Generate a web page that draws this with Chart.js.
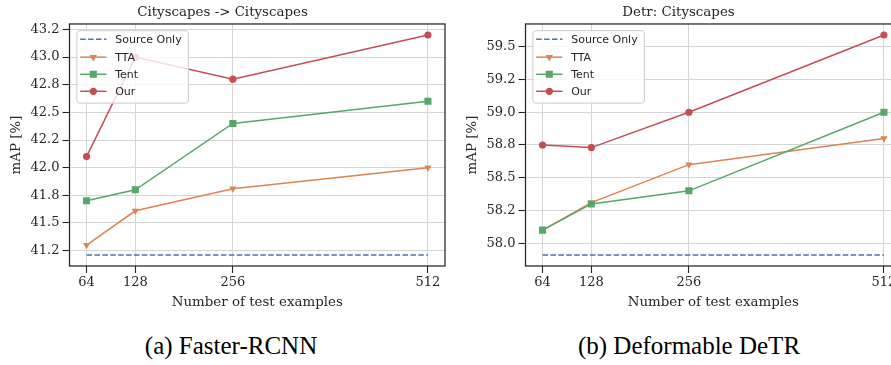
<!DOCTYPE html>
<html>
<head>
<meta charset="utf-8">
<script src="https://cdn.jsdelivr.net/npm/chart.js@4/dist/chart.umd.min.js"></script>
<style>
  html, body { margin: 0; padding: 0; background: #ffffff; }
  body { width: 891px; height: 365px; overflow: hidden; position: relative; }
  .wrap { position: absolute; top: 0; width: 450px; height: 320px; }
  .cap { position: absolute; top: 332px; font-family: "Liberation Serif", "Times New Roman", serif; font-size: 25px; color: #000; white-space: nowrap; transform: translateX(-50%); }
</style>
</head>
<body>
<div class="wrap" style="left:0px"><canvas id="c1"></canvas></div>
<div class="wrap" style="left:456px"><canvas id="c2"></canvas></div>
<div class="cap" style="left:231px">(a) Faster-RCNN</div>
<div class="cap" style="left:689px">(b) Deformable DeTR</div>
<script>
// ---- data ----
const xValues = [64, 128, 256, 512];
const seriesNames = ['Source Only', 'TTA', 'Tent', 'Our'];

const leftTitle = 'Cityscapes -> Cityscapes';
const leftSource = [41.21, 41.21, 41.21, 41.21];
const leftTTA = [41.30, 41.61, 41.81, 42.00];
const leftTent = [41.70, 41.80, 42.40, 42.60];
const leftOur = [42.10, 43.00, 42.80, 43.20];
const leftYTicks = [41.25, 41.5, 41.75, 42.0, 42.25, 42.5, 42.75, 43.0, 43.25];
const leftYTickLabels = ['41.2', '41.5', '41.8', '42.0', '42.2', '42.5', '42.8', '43.0', '43.2'];

const rightTitle = 'Detr: Cityscapes';
const rightSource = [57.91, 57.91, 57.91, 57.91];
const rightTTA = [58.10, 58.31, 58.60, 58.80];
const rightTent = [58.10, 58.30, 58.40, 59.00];
const rightOur = [58.75, 58.73, 59.00, 59.59];
const rightYTicks = [58.0, 58.25, 58.5, 58.75, 59.0, 59.25, 59.5];
const rightYTickLabels = ['58.0', '58.2', '58.5', '58.8', '59.0', '59.2', '59.5'];

const xTitle = 'Number of test examples';
const yTitle = 'mAP [%]';

// ---- styling ----
const COLORS = ['#4C72B0', '#DD8452', '#55A868', '#C44E52'];
const STYLES = [
  { pointStyle: false, radius: 0, dash: [5.5, 2.4], rotation: 0 },
  { pointStyle: 'triangle', radius: 4.2, dash: [], rotation: 180 },
  { pointStyle: 'rect', radius: 5, dash: [], rotation: 0 },
  { pointStyle: 'circle', radius: 3.6, dash: [], rotation: 0 }
];
const DARK = '#262626';
const SERIF = "'DejaVu Serif', serif";
const SANS = "'DejaVu Sans', sans-serif";
const TICK_SIZE = 13;
const LABEL_SIZE = 13.4;

function makeDatasets(series) {
  return series.map((vals, i) => ({
    label: seriesNames[i],
    data: xValues.map((x, k) => ({ x: x, y: vals[k] })),
    borderColor: COLORS[i],
    backgroundColor: COLORS[i],
    borderWidth: 1.5,
    borderDash: STYLES[i].dash,
    pointStyle: STYLES[i].pointStyle,
    pointRadius: STYLES[i].radius,
    pointRotation: STYLES[i].rotation,
    pointBorderWidth: 0,
    pointHoverRadius: STYLES[i].radius,
    tension: 0,
    order: 3 - i
  }));
}

const framePlugin = {
  id: 'frame',
  afterDatasetsDraw(chart) {
    const a = chart.chartArea, ctx = chart.ctx;
    ctx.save();
    ctx.strokeStyle = DARK;
    ctx.lineWidth = 1.25;
    ctx.strokeRect(a.left, a.top, a.right - a.left, a.bottom - a.top);
    ctx.restore();
  }
};

const legendPlugin = {
  id: 'boxLegend',
  afterDraw(chart) {
    const a = chart.chartArea, ctx = chart.ctx;
    const bx = a.left + 7.4, by = a.top + 6.7, bw = 111.5, bh = 72.5;
    ctx.save();
    ctx.fillStyle = 'rgba(255,255,255,0.8)';
    ctx.strokeStyle = '#cccccc';
    ctx.lineWidth = 1;
    ctx.beginPath();
    if (ctx.roundRect) ctx.roundRect(bx, by, bw, bh, 3); else ctx.rect(bx, by, bw, bh);
    ctx.fill();
    ctx.stroke();
    const rows = [15.3, 33.2, 50.3, 67.3];
    chart.data.datasets.forEach((ds, i) => {
      const y = a.top + rows[i];
      ctx.save();
      ctx.strokeStyle = ds.borderColor;
      ctx.lineWidth = 1.5;
      ctx.setLineDash(ds.borderDash || []);
      ctx.beginPath();
      ctx.moveTo(bx + 3.3, y);
      ctx.lineTo(bx + 29.5, y);
      ctx.stroke();
      ctx.restore();
      if (ds.pointStyle) {
        ctx.save();
        ctx.fillStyle = ds.backgroundColor;
        ctx.strokeStyle = ds.backgroundColor;
        ctx.lineWidth = 0.01;
        Chart.helpers.drawPoint(ctx, {
          pointStyle: ds.pointStyle, radius: ds.pointRadius, rotation: ds.pointRotation, borderWidth: 0
        }, bx + 16.4, y);
        ctx.restore();
      }
      ctx.fillStyle = DARK;
      ctx.font = '11px ' + SANS;
      ctx.textBaseline = 'middle';
      ctx.textAlign = 'left';
      ctx.fillText(ds.label, bx + 38.3, y + 0.5);
    });
    ctx.restore();
  }
};

function makeChart(id, title, series, yTicks, yLabels) {
  const all = series.flat();
  const ymin = Math.min(...all), ymax = Math.max(...all);
  const yr = ymax - ymin;
  const xmin = Math.min(...xValues), xmax = Math.max(...xValues);
  const xr = xmax - xmin;
  return new Chart(document.getElementById(id), {
    type: 'line',
    data: { datasets: makeDatasets(series) },
    plugins: [framePlugin, legendPlugin],
    options: {
      responsive: true,
      maintainAspectRatio: false,
      animation: false,
      events: [],
      layout: { padding: { left: 0, right: 5, top: 0, bottom: 0 } },
      plugins: {
        legend: { display: false },
        tooltip: { enabled: false },
        title: {
          display: true, text: title, color: DARK,
          font: { family: SERIF, size: LABEL_SIZE, weight: 'normal' },
          padding: { top: 4, bottom: 3.9 }
        }
      },
      scales: {
        x: {
          type: 'linear',
          min: xmin - 0.05 * xr,
          max: xmax + 0.05 * xr,
          afterBuildTicks: ax => { ax.ticks = xValues.map(v => ({ value: v })); },
          afterFit: ax => { ax.height = 54; },
          ticks: {
            autoSkip: false, maxRotation: 0, padding: 2, color: DARK,
            font: { family: SERIF, size: TICK_SIZE },
            callback: v => String(v)
          },
          grid: { color: '#d5d5d5', lineWidth: 1, tickColor: DARK, tickLength: 7, tickWidth: 1.1 },
          border: { display: false },
          title: {
            display: true, text: xTitle, color: DARK,
            font: { family: SERIF, size: LABEL_SIZE },
            padding: { top: 0, bottom: 9.3 }
          }
        },
        y: {
          type: 'linear',
          min: ymin - 0.05 * yr,
          max: ymax + 0.05 * yr,
          afterBuildTicks: ax => { ax.ticks = yTicks.map(v => ({ value: v })); },
          afterFit: ax => { ax.width = 69.5; },
          ticks: {
            autoSkip: false, padding: 3, color: DARK,
            font: { family: SERIF, size: TICK_SIZE },
            callback: v => {
              const k = yTicks.findIndex(t => Math.abs(t - v) < 1e-9);
              return k >= 0 ? yLabels[k] : '';
            }
          },
          grid: { color: '#d5d5d5', lineWidth: 1, tickColor: DARK, tickLength: 7, tickWidth: 1.1 },
          border: { display: false },
          title: {
            display: true, text: yTitle, color: DARK,
            font: { family: SERIF, size: LABEL_SIZE },
            padding: { top: 8.7, bottom: 0 }
          }
        }
      }
    }
  });
}

makeChart('c1', leftTitle, [leftSource, leftTTA, leftTent, leftOur], leftYTicks, leftYTickLabels);
makeChart('c2', rightTitle, [rightSource, rightTTA, rightTent, rightOur], rightYTicks, rightYTickLabels);
</script>
</body>
</html>
